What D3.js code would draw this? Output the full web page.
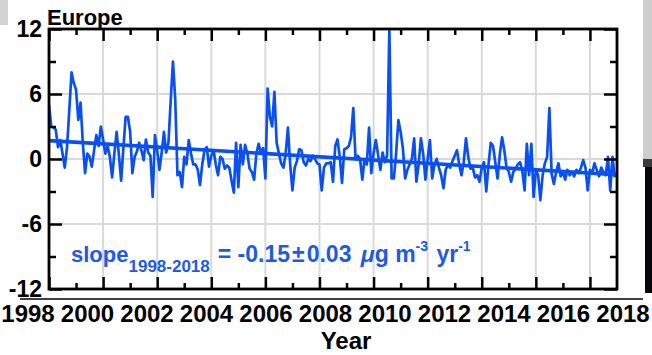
<!DOCTYPE html>
<html>
<head>
<meta charset="utf-8">
<script src="https://cdn.jsdelivr.net/npm/d3@7"></script>
<style>
html,body{margin:0;padding:0;background:#fff;}
svg{display:block;font-family:"Liberation Sans",Arial,Helvetica,sans-serif;}
</style>
</head>
<body>
<svg id="chart" width="652" height="355"></svg>
<script>
// ---- DATA (monthly anomalies, Jan 1998 - Dec 2018) ----
const startYear = 1998;
const v1998 = [5.0, 3.0, 2.9, 2.7, 1.1, 1.75, 0.5, -0.8, 1.1, 4.5, 8.0, 7.0];
const v1999 = [6.4, 3.6, 5.2, 1.5, -1.3, 0.5, 0.2, -0.7, 0.8, 2.2, 1.2, 3.0];
const v2000 = [1.8, 0.5, 1.2, 0.2, -1.7, 0.5, 2.5, 0.4, -2.0, 1.0, 3.9, 3.9];
const v2001 = [2.5, -1.3, 0.2, 0.7, 1.5, 0.8, -0.1, 1.8, 0.6, 0.3, -3.5, 2.2];
const v2002 = [0.8, -1.0, 0.6, 2.5, 0.6, 1.5, 5.4, 9.0, 5.5, -1.5, -1.2, -2.6];
const v2003 = [0.2, -0.5, 1.75, 0.5, -0.5, -0.5, -1.0, -2.4, -0.5, 0.8, 1.1, -0.7];
const v2004 = [0.3, 0.8, -0.5, -1.5, 0.2, 0.0, -0.9, -0.6, -0.8, -2.0, -3.1, 1.5];
const v2005 = [-2.6, 1.3, -0.5, 1.3, 0.5, -0.9, -1.2, -1.9, 0.5, 1.4, 0.6, 1.0];
const v2006 = [-1.8, 6.5, 3.9, 3.0, 6.2, 1.5, 0.5, -0.4, -0.8, 0.5, 2.9, -0.5];
const v2007 = [-2.9, -0.8, -0.2, 0.9, 0.8, -0.3, -0.6, 0.0, -0.2, 0.3, 0.0, -0.4];
const v2008 = [-0.5, -2.9, -0.8, -0.4, -0.4, -0.3, -2.1, 1.2, 1.8, 0.2, -2.2, 0.9];
const v2009 = [1.0, 1.2, 2.0, 4.7, 0.0, 0.3, 0.0, -1.9, 0.0, -0.5, 2.9, -1.3];
const v2010 = [0.5, 1.75, 0.4, -1.0, 0.6, -0.3, 0.3, 12.0, -1.8, -1.8, 0.5, 3.6];
const v2011 = [2.5, 1.0, -1.8, -1.0, -0.5, 0.0, 1.9, -2.1, -0.5, 1.9, 0.5, -1.9];
const v2012 = [0.0, 1.75, -1.8, -0.5, 0.0, -0.8, -1.5, -2.7, -1.0, -0.5, -0.8, -0.2];
const v2013 = [0.3, 0.8, -0.5, -1.5, -0.3, 1.9, 0.2, -0.9, -0.8, -1.7, -1.5, -2.1];
const v2014 = [-0.8, -0.3, -3.0, -0.5, 1.5, 1.2, -0.3, -1.8, 0.4, 2.0, 0.8, -0.8];
const v2015 = [-1.2, -2.1, -1.2, -0.9, -0.5, -0.3, -1.1, -2.9, 1.4, -1.5, 1.4, -3.5];
const v2016 = [-1.0, -1.5, -3.8, -1.5, -0.4, 0.2, 4.7, -1.4, -2.3, -1.2, -0.4, -1.6];
const v2017 = [-1.2, -1.9, -1.0, -1.5, -1.2, -1.6, -1.0, -1.3, -0.8, -0.1, -0.8, -2.9];
const v2018 = [-1.0, -1.3, -0.4, -1.0, -1.6, -0.8, -1.2, -1.5, 0.2, -2.9, 0.2, -1.7];

const trendStart = 1.7;     // value of fitted line at 1998
const trendSlope = -0.15;   // per year
const trendYears = [1998, 2019];

const xTickYears = [1998, 2000, 2002, 2004, 2006, 2008, 2010, 2012, 2014, 2016, 2018];
const xMinorYears = [1999, 2001, 2003, 2005, 2007, 2009, 2011, 2013, 2015, 2017];
const yTicks = [-12, -6, 0, 6, 12];
const yMinor = [-9, -3, 3, 9];
const yGrid = [-6, 0, 6];
const xGrid = [2000, 2002, 2004, 2006, 2008, 2010, 2012, 2014, 2016, 2018];

const regionLabel = "Europe";
const xTitle = "Year";

// ---- build series ----
const allVals = [].concat(v1998, v1999, v2000, v2001, v2002, v2003, v2004, v2005, v2006,
  v2007, v2008, v2009, v2010, v2011, v2012, v2013, v2014, v2015, v2016, v2017, v2018);
const series = allVals.map((v, i) => ({t: startYear + i / 12, v: v}));
const trend = trendYears.map(t => ({t: t, v: trendStart + trendSlope * (t - startYear)}));

const blue = "#0a50f0";
const textBlue = "#1d5ae6";

const svg = d3.select("#chart");
const L = 49, R = 617, T = 29, B = 289;
const x = d3.scaleLinear().domain([1998, 2019]).range([L, R]);
const y = d3.scaleLinear().domain([-12, 12]).range([B, T]);

// side artefacts of the cropped figure
svg.append("rect").attr("x", 0).attr("y", 0).attr("width", 8).attr("height", 25).attr("fill", "#d2d2d2");
svg.append("rect").attr("x", 643).attr("y", 0).attr("width", 9).attr("height", 159).attr("fill", "#cdcdcd");
svg.append("rect").attr("x", 643).attr("y", 159).attr("width", 9).attr("height", 8).attr("fill", "#3a3a3a");
svg.append("rect").attr("x", 645).attr("y", 167).attr("width", 7).attr("height", 126).attr("fill", "#06060f");
svg.append("rect").attr("x", 643).attr("y", 167).attr("width", 2).attr("height", 126).attr("fill", "#ffffff");

// grid
const grid = svg.append("g").attr("stroke", "#d9d9d9").attr("stroke-width", 2);
grid.selectAll("line.v").data(xGrid).join("line")
  .attr("x1", d => x(d)).attr("x2", d => x(d)).attr("y1", T).attr("y2", B);
grid.selectAll("line.h").data(yGrid).join("line")
  .attr("x1", L).attr("x2", R).attr("y1", d => y(d)).attr("y2", d => y(d));

// clip
svg.append("clipPath").attr("id", "clip").append("rect")
  .attr("x", L).attr("y", T - 1).attr("width", R - L).attr("height", B - T + 1);

const line = d3.line().x(d => x(d.t)).y(d => y(d.v));
svg.append("path").datum(series).attr("clip-path", "url(#clip)")
  .attr("d", line).attr("fill", "none").attr("stroke", blue)
  .attr("stroke-width", 2.7).attr("stroke-linejoin", "round");
svg.append("path").datum(trend).attr("clip-path", "url(#clip)")
  .attr("d", line).attr("fill", "none").attr("stroke", blue).attr("stroke-width", 3.6);

// axes with inward ticks
function styleAxis(g) {
  g.selectAll(".domain").remove();
  g.selectAll("line").attr("stroke", "#000").attr("stroke-width", 2.5);
  g.selectAll("text").remove();
}
svg.append("g").attr("transform", `translate(0,${B})`)
  .call(d3.axisBottom(x).tickValues(xTickYears).tickSize(-12)).call(styleAxis);
svg.append("g").attr("transform", `translate(0,${B})`)
  .call(d3.axisBottom(x).tickValues(xMinorYears).tickSize(-6)).call(styleAxis);
svg.append("g").attr("transform", `translate(0,${T})`)
  .call(d3.axisTop(x).tickValues(xTickYears).tickSize(-12)).call(styleAxis);
svg.append("g").attr("transform", `translate(0,${T})`)
  .call(d3.axisTop(x).tickValues(xMinorYears).tickSize(-6)).call(styleAxis);
svg.append("g").attr("transform", `translate(${L},0)`)
  .call(d3.axisLeft(y).tickValues(yTicks).tickSize(-13)).call(styleAxis);
svg.append("g").attr("transform", `translate(${L},0)`)
  .call(d3.axisLeft(y).tickValues(yMinor).tickSize(-7)).call(styleAxis);
svg.append("g").attr("transform", `translate(${R},0)`)
  .call(d3.axisRight(y).tickValues(yTicks).tickSize(-13)).call(styleAxis);
svg.append("g").attr("transform", `translate(${R},0)`)
  .call(d3.axisRight(y).tickValues(yMinor).tickSize(-7)).call(styleAxis);

// frame
svg.append("rect").attr("x", L).attr("y", T).attr("width", R - L).attr("height", B - T)
  .attr("fill", "none").attr("stroke", "#000").attr("stroke-width", 2.8);

// y tick labels
svg.append("g").selectAll("text").data(yTicks).join("text")
  .attr("x", 42).attr("y", d => y(d)).attr("dy", "0.36em")
  .attr("text-anchor", "end").attr("font-size", 23).attr("font-weight", "bold")
  .text(d => d);

// title
svg.append("text").attr("x", 47).attr("y", 25).attr("font-size", 22)
  .attr("font-weight", "bold").text(regionLabel);

// slope annotation
const st = svg.append("text").attr("x", 71).attr("y", 262).attr("fill", textBlue)
  .attr("font-weight", "bold").attr("font-size", 22);
st.append("tspan").text("slope");
st.append("tspan").attr("font-size", 17).attr("dy", 10).text("1998-2018");
st.append("tspan").attr("font-size", 23).attr("dy", -10).attr("dx", 8).text("= -0.15");
st.append("tspan").attr("font-size", 23).attr("dx", 2).text("\u00B1");
st.append("tspan").attr("font-size", 23).attr("dx", 2).text("0.03 ");
st.append("tspan").attr("font-size", 23).attr("dx", 3).attr("font-style", "italic").text("\u03BC");
st.append("tspan").attr("font-size", 23).text("g m");
st.append("tspan").attr("font-size", 14).attr("dy", -11).text("-3");
st.append("tspan").attr("font-size", 23).attr("dy", 11).attr("dx", 2).text(" yr");
st.append("tspan").attr("font-size", 14).attr("dy", -11).text("-1");

// lower (outer) year axis of the figure
const x2 = d3.scaleLinear().domain([1998, 2018]).range([28, 623]);
svg.append("line").attr("x1", 20).attr("x2", 643).attr("y1", 299).attr("y2", 299)
  .attr("stroke", "#000").attr("stroke-width", 1.6);
svg.append("g").selectAll("text").data(xTickYears).join("text")
  .attr("x", d => x2(d)).attr("y", 322).attr("text-anchor", "middle")
  .attr("font-size", 24).attr("font-weight", "bold").text(d => d);
svg.append("text").attr("x", 346).attr("y", 349).attr("text-anchor", "middle")
  .attr("font-size", 24).attr("font-weight", "bold").text(xTitle);
</script>
</body>
</html>
